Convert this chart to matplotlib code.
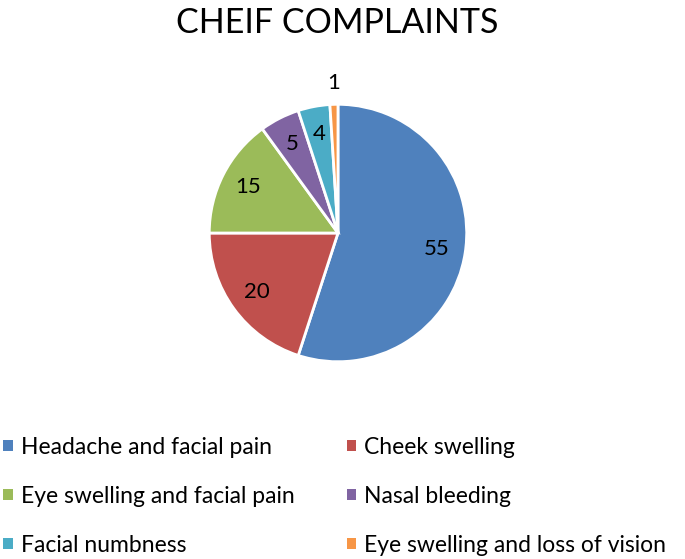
import numpy as np
import matplotlib.pyplot as plt

plt.rcParams['font.family'] = ['Lato', 'DejaVu Sans']

# data
complaints = ['Headache and facial pain', 'Cheek swelling', 'Eye swelling and facial pain',
              'Nasal bleeding', 'Facial numbness', 'Eye swelling and loss of vision']
counts = [55, 20, 15, 5, 4, 1]
colors = ['#4F81BD', '#C0504D', '#9BBB59', '#8064A2', '#4BACC6', '#F79646']

fig = plt.figure(figsize=(6.85, 5.59), dpi=100)
ax = fig.add_axes([0.3036, 0.3506, 0.3796, 0.4651])

wedges, texts = ax.pie(counts, colors=colors, startangle=90, counterclock=False,
                       labels=[str(c) for c in counts], labeldistance=0.78,
                       wedgeprops=dict(edgecolor='white', linewidth=2),
                       textprops=dict(fontsize=16, ha='center', va='center'))
# small slice label goes outside
for w, t, c in zip(wedges, texts, counts):
    if c < 2:
        ang = np.deg2rad((w.theta1 + w.theta2) / 2)
        t.set_position((1.17 * np.cos(ang), 1.17 * np.sin(ang)))
    t.set_ha('center')
    t.set_clip_on(False)
ax.set_xlim(-1.01, 1.01)
ax.set_ylim(-1.01, 1.01)
ax.set_aspect('equal')

fig.text(0.492, 0.958, 'CHEIF COMPLAINTS', fontsize=24.5, ha='center', va='center')

# legend is filled row by row in the original
order = [0, 2, 4, 1, 3, 5]
leg = fig.legend([wedges[i] for i in order], [complaints[i] for i in order], ncol=2,
                 loc='lower left', bbox_to_anchor=(0.0, 0.0),
                 frameon=False, fontsize=16.5, handlelength=0.4, handleheight=0.4,
                 handletextpad=0.35, labelspacing=1.22, columnspacing=2.3,
                 borderaxespad=0.0, borderpad=0.15)
for h in leg.legend_handles:
    h.set_edgecolor('none')

fig.savefig('out.png', dpi=100)
